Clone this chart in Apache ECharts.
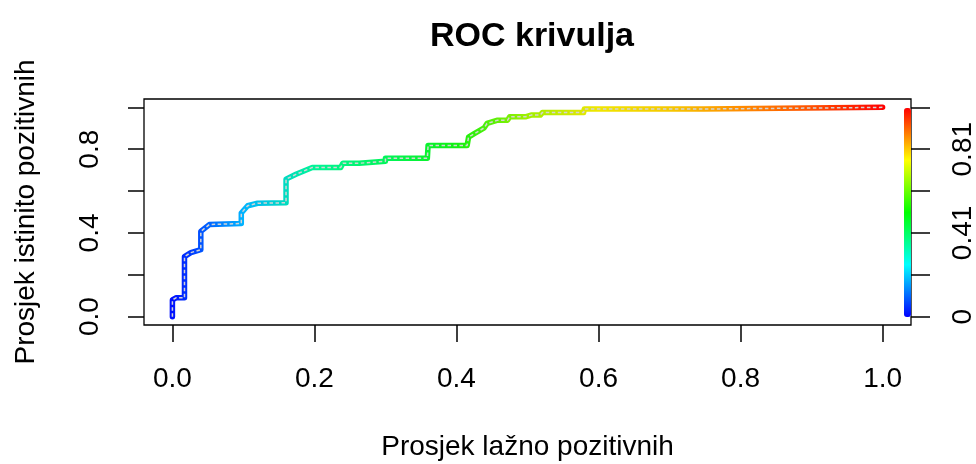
<!DOCTYPE html>
<html>
<head>
<meta charset="utf-8">
<title>ROC krivulja</title>
<script src="https://cdn.jsdelivr.net/npm/echarts@6/dist/echarts.min.js"></script>
<style>
  html, body { margin: 0; padding: 0; background: #fff; }
  #chart { width: 976px; height: 464px; }
</style>
</head>
<body>
<div id="chart"></div>
<script>
// ROC points (false positive rate, true positive rate)
const fpr = [0, 0, 0.005, 0.017, 0.017, 0.026, 0.040, 0.040, 0.052, 0.097, 0.097, 0.106, 0.120, 0.160, 0.160, 0.174, 0.197, 0.237, 0.240, 0.263, 0.265, 0.300, 0.300, 0.359, 0.360, 0.415, 0.417, 0.425, 0.439, 0.443, 0.458, 0.472, 0.475, 0.497, 0.505, 0.518, 0.521, 0.579, 0.580, 0.748, 0.750, 1.0];
const tpr = [0, 0.080, 0.090, 0.090, 0.287, 0.306, 0.320, 0.407, 0.440, 0.445, 0.495, 0.530, 0.542, 0.544, 0.657, 0.680, 0.713, 0.713, 0.733, 0.733, 0.742, 0.742, 0.757, 0.757, 0.818, 0.818, 0.858, 0.874, 0.902, 0.923, 0.939, 0.939, 0.955, 0.955, 0.963, 0.963, 0.975, 0.975, 0.992, 0.992, 1.0, 1.0];

const xTicks = [0, 0.2, 0.4, 0.6, 0.8, 1.0];
const yTicks = [0, 0.2, 0.4, 0.6, 0.8, 1.0];
const yLabelTicks = [0, 0.4, 0.8];
const cutoffLabels = ['0', '0.41', '0.81'];

// colour of the curve along the x axis, and the colour key
const curveColors = ['#0010ff', '#00b4ff', '#00f596', '#00f55a', '#10f010', '#a0f000', '#f0e600', '#f5c800', '#ff8c00', '#ff5000', '#ff0000'];
const keyColors = ['#0000ff', '#00ffff', '#00ff00', '#ffff00', '#ff0000'];

const points = fpr.map((x, i) => [x, tpr[i]]);
const font = 'Liberation Sans, Arial, sans-serif';

const chart = echarts.init(document.getElementById('chart'));
chart.setOption({
  animation: false,
  title: {
    text: 'ROC krivulja',
    left: 527,
    top: 15,
    textAlign: 'center',
    textStyle: { fontFamily: font, fontSize: 34, fontWeight: 'bold', color: '#000' }
  },
  grid: {
    left: 144, right: 65, top: 99, bottom: 139,
    containLabel: false,
    outerBoundsMode: 'none',
    show: true,
    borderColor: '#000',
    borderWidth: 1.3,
    backgroundColor: 'transparent'
  },
  xAxis: {
    type: 'value',
    min: -0.04, max: 1.04,
    name: 'Prosjek lažno pozitivnih',
    nameLocation: 'middle',
    nameGap: 108,
    nameTextStyle: { fontFamily: font, fontSize: 28, color: '#000' },
    axisLine: { show: false, onZero: false },
    splitLine: { show: false },
    axisTick: { show: true, length: 17, lineStyle: { color: '#000', width: 1.5 }, customValues: xTicks },
    axisLabel: {
      customValues: xTicks,
      margin: 40,
      fontFamily: font, fontSize: 28, color: '#000',
      formatter: v => v.toFixed(1)
    }
  },
  yAxis: [
    {
      type: 'value',
      min: -0.04, max: 1.04,
      position: 'left',
      name: 'Prosjek istinito pozitivnih',
      nameLocation: 'middle',
      nameRotate: 90,
      nameGap: 104,
      nameTextStyle: { fontFamily: font, fontSize: 28, color: '#000' },
      axisLine: { show: false, onZero: false },
      splitLine: { show: false },
      axisTick: { show: true, length: 16, lineStyle: { color: '#000', width: 1.5 }, customValues: yTicks },
      axisLabel: {
        customValues: yLabelTicks,
        rotate: 90,
        margin: 40,
        fontFamily: font, fontSize: 28, color: '#000',
        formatter: v => v.toFixed(1)
      }
    },
    {
      type: 'value',
      min: -0.04, max: 1.04,
      position: 'right',
      axisLine: { show: false, onZero: false },
      splitLine: { show: false },
      axisTick: { show: true, length: 19, lineStyle: { color: '#000', width: 1.5 }, customValues: yTicks },
      axisLabel: {
        customValues: yLabelTicks,
        rotate: 90,
        margin: 38,
        fontFamily: font, fontSize: 28, color: '#000',
        formatter: v => cutoffLabels[yLabelTicks.findIndex(t => Math.abs(t - v) < 1e-6)] || ''
      }
    }
  ],
  visualMap: [
    {
      type: 'continuous',
      show: false,
      seriesIndex: 0,
      dimension: 0,
      min: 0, max: 1,
      inRange: { color: curveColors }
    },
    {
      type: 'continuous',
      show: true,
      seriesIndex: [],
      min: 0, max: 1,
      calculable: false,
      hoverLink: false,
      left: 904, top: 108,
      padding: 0,
      itemWidth: 7,
      itemHeight: 209,
      inRange: { color: keyColors }
    }
  ],
  series: [
    {
      type: 'line',
      data: points,
      symbol: 'none',
      silent: true,
      lineStyle: { width: 5.5, join: 'round', cap: 'round' }
    },
    {
      type: 'line',
      data: points,
      symbol: 'none',
      silent: true,
      lineStyle: { width: 1.5, color: '#d4d4d4', type: [3.5, 2.5] }
    }
  ]
});
</script>
</body>
</html>
